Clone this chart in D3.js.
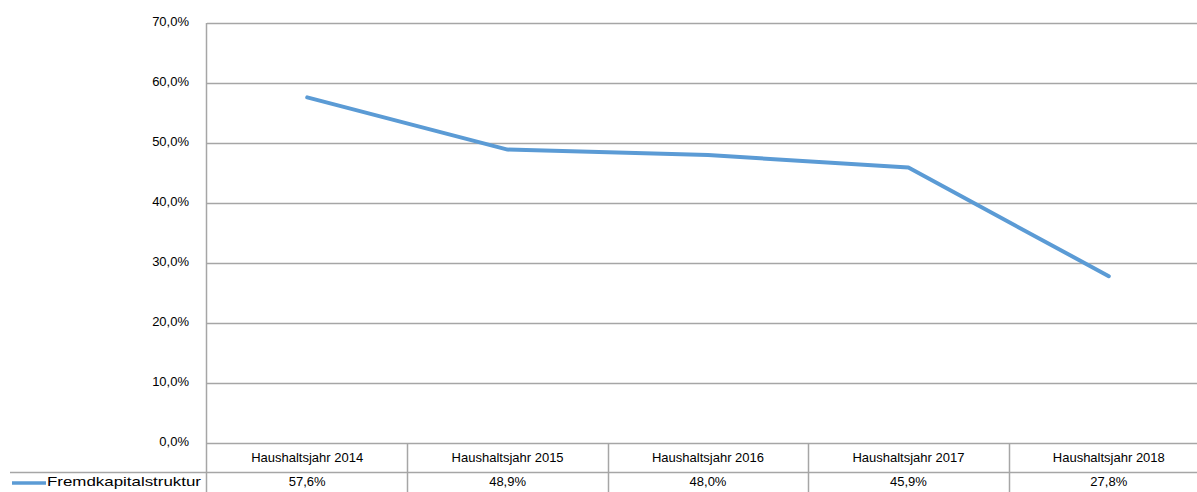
<!DOCTYPE html>
<html>
<head>
<meta charset="utf-8">
<script src="https://cdn.jsdelivr.net/npm/d3@7"></script>
<style>
  body { margin: 0; background: #fff; }
  svg text { font-family: "Liberation Sans", "DejaVu Sans", sans-serif; font-size: 13px; fill: #000; }
</style>
</head>
<body>
<svg id="chart" width="1197" height="492"></svg>
<script>
// chart data
const years = ["Haushaltsjahr 2014", "Haushaltsjahr 2015", "Haushaltsjahr 2016", "Haushaltsjahr 2017", "Haushaltsjahr 2018"];
const values = [0.576, 0.489, 0.480, 0.459, 0.278];
const seriesName = "Fremdkapitalstruktur";
const yTicks = [0, 0.1, 0.2, 0.3, 0.4, 0.5, 0.6, 0.7];

function drawChart() {
  const svg = d3.select("#chart");
  const gridColor = "#a6a6a6";
  const lineColor = "#5b9bd5";

  // plot runs a bit past the right edge, like the screenshot
  const plotLeft = 207, plotRight = 1209, plotTop = 23, plotBottom = 443;
  const rowTop = 472, rowBottom = 492;

  const x = d3.scaleBand().domain(years).range([plotLeft, plotRight]);
  const y = d3.scaleLinear().domain([0, 0.7]).range([plotBottom, plotTop]);

  const fmt = v => d3.format(".1%")(v).replace(".", ",");

  // gridlines
  svg.append("g").selectAll("line")
    .data(yTicks)
    .join("line")
    .attr("x1", plotLeft).attr("x2", plotRight)
    .attr("y1", d => Math.round(y(d)) + 0.5).attr("y2", d => Math.round(y(d)) + 0.5)
    .attr("stroke", gridColor).attr("stroke-width", 1.5);

  // y labels
  svg.append("g").selectAll("text")
    .data(yTicks)
    .join("text")
    .attr("x", 189)
    .attr("y", d => y(d))
    .attr("text-anchor", "end")
    .attr("dominant-baseline", "middle")
    .text(d => fmt(d));

  // left axis line down through the table
  svg.append("line")
    .attr("x1", plotLeft - 0.5).attr("x2", plotLeft - 0.5)
    .attr("y1", plotTop).attr("y2", rowBottom)
    .attr("stroke", gridColor).attr("stroke-width", 1.5);

  // table: category separators
  svg.append("g").selectAll("line")
    .data(years.slice(1))
    .join("line")
    .attr("x1", d => Math.round(x(d)) + 0.5).attr("x2", d => Math.round(x(d)) + 0.5)
    .attr("y1", plotBottom).attr("y2", rowBottom)
    .attr("stroke", gridColor).attr("stroke-width", 1.5);

  // row separator
  svg.append("line")
    .attr("x1", 10).attr("x2", plotRight)
    .attr("y1", rowTop + 0.5).attr("y2", rowTop + 0.5)
    .attr("stroke", gridColor).attr("stroke-width", 1.5);

  // header labels
  svg.append("g").selectAll("text")
    .data(years)
    .join("text")
    .attr("x", d => x(d) + x.bandwidth() / 2)
    .attr("y", (plotBottom + rowTop) / 2 + 1)
    .attr("text-anchor", "middle")
    .attr("dominant-baseline", "middle")
    .text(d => d);

  // value row
  svg.append("g").selectAll("text")
    .data(values)
    .join("text")
    .attr("x", (d, i) => x(years[i]) + x.bandwidth() / 2)
    .attr("y", (rowTop + rowBottom) / 2 + 1)
    .attr("text-anchor", "middle")
    .attr("dominant-baseline", "middle")
    .text(d => fmt(d));

  // legend key
  svg.append("line")
    .attr("x1", 12).attr("x2", 46)
    .attr("y1", 483).attr("y2", 483)
    .attr("stroke", lineColor).attr("stroke-width", 3.5);
  svg.append("text")
    .attr("x", 47).attr("y", 483)
    .attr("dominant-baseline", "middle")
    .attr("textLength", 154)
    .attr("lengthAdjust", "spacingAndGlyphs")
    .text(seriesName);

  // the series line
  const line = d3.line()
    .x((d, i) => x(years[i]) + x.bandwidth() / 2)
    .y(d => y(d));

  svg.append("path")
    .datum(values)
    .attr("d", line)
    .attr("fill", "none")
    .attr("stroke", lineColor)
    .attr("stroke-width", 4)
    .attr("stroke-linejoin", "round")
    .attr("stroke-linecap", "round");
}

drawChart();
</script>
</body>
</html>
